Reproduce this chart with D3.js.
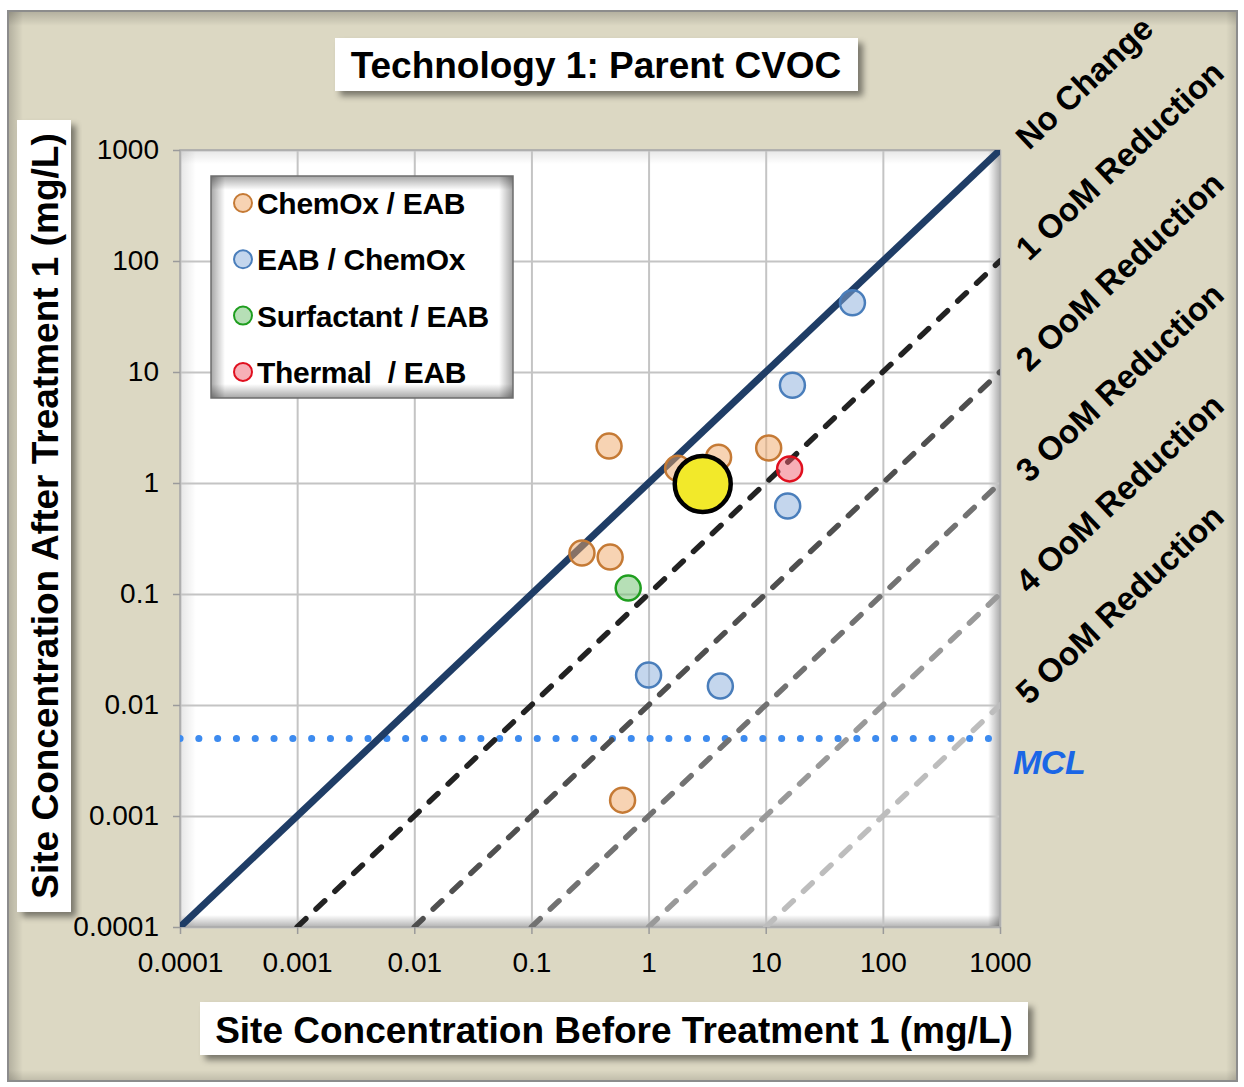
<!DOCTYPE html>
<html>
<head>
<meta charset="utf-8">
<script src="https://cdn.jsdelivr.net/npm/d3@7"></script>
<style>
  html, body { margin: 0; padding: 0; background: #ffffff; }
  svg { display: block; }
  text { font-family: "Liberation Sans", Arial, Helvetica, sans-serif; }
</style>
</head>
<body>
<svg id="chart" width="1244" height="1087"></svg>
<script>
// ---- data ----
const titleText = "Technology 1: Parent CVOC";
const xTitle = "Site Concentration Before Treatment 1 (mg/L)";
const yTitle = "Site Concentration After Treatment 1 (mg/L)";

const tickValues = [1e-4, 1e-3, 1e-2, 1e-1, 1, 10, 100, 1000];
const tickLabels = ["0.0001", "0.001", "0.01", "0.1", "1", "10", "100", "1000"];

const seriesNames = ["ChemOx / EAB", "EAB / ChemOx", "Surfactant / EAB", "Thermal  / EAB"];

// [before, after] concentrations (mg/L)
const chemOxEab = [[0.46, 2.15], [0.27, 0.234], [0.47, 0.215], [1.77, 1.36], [3.96, 1.71], [10.6, 2.07], [0.60, 0.00139]];
const eabChemOx = [[55, 42], [16.9, 7.6], [15.4, 0.62], [1.0, 0.0186], [4.1, 0.0148]];
const surfactantEab = [[0.67, 0.113]];
const thermalEab = [[16.0, 1.34]];
const overallMean = [[2.9, 0.98]];

// orders of magnitude reduction reference lines
const reductionOrders = [0, 1, 2, 3, 4, 5];
const reductionLabels = ["No Change", "1 OoM Reduction", "2 OoM Reduction", "3 OoM Reduction", "4 OoM Reduction", "5 OoM Reduction"];
const mclValue = 0.005;
const mclLabel = "MCL";

// ---- styles ----
const seriesStyles = [
  { fill: "#f0a868", stroke: "#c57a35" },
  { fill: "#8aaedb", stroke: "#4a7ebb" },
  { fill: "#6dc06d", stroke: "#1f9e1f" },
  { fill: "#f06070", stroke: "#e0101f" }
];
const seriesData = [chemOxEab, eabChemOx, surfactantEab, thermalEab];
const reductionColors = ["#1f3d66", "#222222", "#4f4f4f", "#727272", "#999999", "#bdbdbd"];

const svg = d3.select("#chart");
const defs = svg.append("defs");

// drop shadow for text boxes
const ds = defs.append("filter").attr("id", "dropShadow")
  .attr("x", "-10%").attr("y", "-10%").attr("width", "130%").attr("height", "140%");
ds.append("feDropShadow").attr("dx", 5).attr("dy", 5).attr("stdDeviation", 3)
  .attr("flood-color", "#000").attr("flood-opacity", 0.45);

// edge gradients used for inner shadows
function edgeGradient(id, x1, y1, x2, y2) {
  const g = defs.append("linearGradient").attr("id", id)
    .attr("x1", x1).attr("y1", y1).attr("x2", x2).attr("y2", y2);
  g.append("stop").attr("offset", "0%").attr("stop-color", "#000").attr("stop-opacity", 1);
  g.append("stop").attr("offset", "100%").attr("stop-color", "#000").attr("stop-opacity", 0);
}
edgeGradient("edgeL", 0, 0, 1, 0);
edgeGradient("edgeR", 1, 0, 0, 0);
edgeGradient("edgeT", 0, 0, 0, 1);
edgeGradient("edgeB", 0, 1, 0, 0);

function innerShadow(g, x, y, w, h, s, op) {
  g.append("rect").attr("x", x).attr("y", y).attr("width", s.l).attr("height", h).attr("fill", "url(#edgeL)").attr("opacity", op.l);
  g.append("rect").attr("x", x + w - s.r).attr("y", y).attr("width", s.r).attr("height", h).attr("fill", "url(#edgeR)").attr("opacity", op.r);
  g.append("rect").attr("x", x).attr("y", y).attr("width", w).attr("height", s.t).attr("fill", "url(#edgeT)").attr("opacity", op.t);
  g.append("rect").attr("x", x).attr("y", y + h - s.b).attr("width", w).attr("height", s.b).attr("fill", "url(#edgeB)").attr("opacity", op.b);
}

// ---- background frame ----
svg.append("rect").attr("x", 8).attr("y", 11).attr("width", 1229).attr("height", 1070)
  .attr("fill", "#dcd8c3").attr("stroke", "#8c8c8c").attr("stroke-width", 2);
innerShadow(svg.append("g"), 9, 12, 1227, 1068, { l: 14, r: 10, t: 14, b: 10 }, { l: 0.18, r: 0.12, t: 0.18, b: 0.12 });

// ---- plot area ----
const plot = { left: 180, top: 150, right: 1000, bottom: 927 };
const x = d3.scaleLog().domain([1e-4, 1e3]).range([plot.left, plot.right]);
const y = d3.scaleLog().domain([1e-4, 1e3]).range([plot.bottom, plot.top]);

svg.append("rect").attr("x", plot.left).attr("y", plot.top)
  .attr("width", plot.right - plot.left).attr("height", plot.bottom - plot.top)
  .attr("fill", "#ffffff");
innerShadow(svg.append("g"), plot.left, plot.top, plot.right - plot.left, plot.bottom - plot.top,
  { l: 16, r: 12, t: 14, b: 12 }, { l: 0.10, r: 0.32, t: 0.10, b: 0.30 });

// gridlines
svg.append("g").attr("class", "grid")
  .attr("transform", `translate(0,${plot.bottom})`)
  .call(d3.axisBottom(x).tickValues(tickValues).tickSize(-(plot.bottom - plot.top)).tickFormat(""))
  .call(g => g.select(".domain").remove())
  .call(g => g.selectAll("line").attr("stroke", "#c4c4c4").attr("stroke-width", 2));
svg.append("g").attr("class", "grid")
  .attr("transform", `translate(${plot.left},0)`)
  .call(d3.axisLeft(y).tickValues(tickValues).tickSize(-(plot.right - plot.left)).tickFormat(""))
  .call(g => g.select(".domain").remove())
  .call(g => g.selectAll("line").attr("stroke", "#c4c4c4").attr("stroke-width", 2));

svg.append("rect").attr("x", plot.left).attr("y", plot.top)
  .attr("width", plot.right - plot.left).attr("height", plot.bottom - plot.top)
  .attr("fill", "none").attr("stroke", "#a8a8a8").attr("stroke-width", 1.5);

// axes
const xAxis = svg.append("g").attr("transform", `translate(0,${plot.bottom})`)
  .call(d3.axisBottom(x).tickValues(tickValues).tickSize(7).tickPadding(18)
    .tickFormat((d, i) => tickLabels[i]));
const yAxis = svg.append("g").attr("transform", `translate(${plot.left},0)`)
  .call(d3.axisLeft(y).tickValues(tickValues).tickSize(7).tickPadding(14)
    .tickFormat((d, i) => tickLabels[i]));
[xAxis, yAxis].forEach(a => {
  a.select(".domain").remove();
  a.selectAll(".tick line").attr("stroke", "#9a9a9a").attr("stroke-width", 1.5);
  a.selectAll(".tick text").attr("fill", "#000").style("font-size", "28px")
    .style("font-family", "'Liberation Sans', Arial, sans-serif");
});

// clip for reference lines
defs.append("clipPath").attr("id", "plotClip").append("rect")
  .attr("x", plot.left).attr("y", plot.top)
  .attr("width", plot.right - plot.left).attr("height", plot.bottom - plot.top);
const lines = svg.append("g").attr("clip-path", "url(#plotClip)");

// MCL line
lines.append("line")
  .attr("x1", x(1e-4)).attr("x2", x(1e3))
  .attr("y1", y(mclValue)).attr("y2", y(mclValue))
  .attr("stroke", "#3d8bef").attr("stroke-width", 7)
  .attr("stroke-linecap", "round").attr("stroke-dasharray", "0.1 18.7");

// reduction lines: after = before / 10^k
reductionOrders.forEach((k, i) => {
  const f = Math.pow(10, k);
  const x0 = Math.max(1e-4, 1e-4 * f), x1 = 1e3;
  lines.append("line")
    .attr("x1", x(x0)).attr("y1", y(x0 / f))
    .attr("x2", x(x1)).attr("y2", y(x1 / f))
    .attr("stroke", reductionColors[i])
    .attr("stroke-width", k === 0 ? 7 : 5.5)
    .attr("stroke-linecap", k === 0 ? "butt" : "round")
    .attr("stroke-dasharray", k === 0 ? null : "12 14");
});

// data points
const pts = svg.append("g");
seriesData.forEach((arr, si) => {
  pts.selectAll(null).data(arr).enter().append("circle")
    .attr("cx", d => x(d[0])).attr("cy", d => y(d[1])).attr("r", 12.5)
    .attr("fill", seriesStyles[si].fill).attr("fill-opacity", 0.5)
    .attr("stroke", seriesStyles[si].stroke).attr("stroke-width", 2.5);
});
pts.selectAll(null).data(overallMean).enter().append("circle")
  .attr("cx", d => x(d[0])).attr("cy", d => y(d[1])).attr("r", 28)
  .attr("fill", "#f2e92a").attr("stroke", "#000").attr("stroke-width", 4.5);

// legend
const lg = svg.append("g");
lg.append("rect").attr("x", 211).attr("y", 176).attr("width", 302).attr("height", 222).attr("fill", "#fff");
innerShadow(lg, 211, 176, 302, 222, { l: 14, r: 14, t: 14, b: 14 }, { l: 0.35, r: 0.35, t: 0.35, b: 0.35 });
lg.append("rect").attr("x", 211).attr("y", 176).attr("width", 302).attr("height", 222)
  .attr("fill", "none").attr("stroke", "#6e6e6e").attr("stroke-width", 1.5);
seriesNames.forEach((name, i) => {
  const cy = 203 + i * 56.3;
  lg.append("circle").attr("cx", 243).attr("cy", cy).attr("r", 9)
    .attr("fill", seriesStyles[i].fill).attr("fill-opacity", 0.5)
    .attr("stroke", seriesStyles[i].stroke).attr("stroke-width", 2);
  lg.append("text").attr("x", 257).attr("y", cy + 11).text(name)
    .attr("font-size", 30).attr("font-weight", "bold").attr("fill", "#000")
    .attr("letter-spacing", -0.3).style("white-space", "pre");
});

// reduction labels on the right, along the lines' slope
const angle = -Math.atan2(y(1) - y(10), x(10) - x(1)) * 180 / Math.PI;
reductionOrders.forEach((k, i) => {
  const yEnd = 1e3 / Math.pow(10, k);
  svg.append("text")
    .attr("transform", `translate(1029,${y(yEnd) + 1}) rotate(${angle})`)
    .attr("font-size", 33).attr("font-weight", "bold").attr("fill", "#000")
    .text(reductionLabels[i]);
});

// MCL label
svg.append("text").attr("x", 1013).attr("y", 774).text(mclLabel)
  .attr("font-size", 34).attr("font-weight", "bold").attr("font-style", "italic")
  .attr("fill", "#1a66e6").attr("letter-spacing", -0.5);

// title boxes
function textBox(x0, y0, w, h) {
  svg.append("rect").attr("x", x0).attr("y", y0).attr("width", w).attr("height", h)
    .attr("fill", "#fff").attr("filter", "url(#dropShadow)");
}
textBox(335, 38, 523, 53);
svg.append("text").attr("x", 596).attr("y", 78).attr("text-anchor", "middle")
  .attr("font-size", 37).attr("font-weight", "bold").attr("fill", "#000").text(titleText);

textBox(200, 1002, 828, 53);
svg.append("text").attr("x", 614).attr("y", 1043).attr("text-anchor", "middle")
  .attr("font-size", 37).attr("font-weight", "bold").attr("fill", "#000").text(xTitle);

textBox(17, 120, 54, 792);
svg.append("text").attr("transform", "translate(58,516) rotate(-90)").attr("text-anchor", "middle")
  .attr("font-size", 37).attr("font-weight", "bold").attr("fill", "#000").text(yTitle);
</script>
</body>
</html>
